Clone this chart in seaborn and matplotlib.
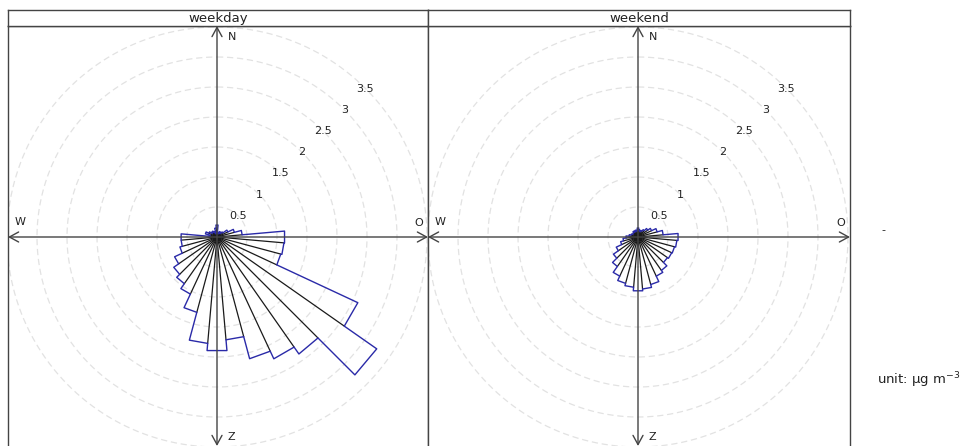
import numpy as np
import pandas as pd
import matplotlib
matplotlib.use("Agg")
import matplotlib.pyplot as plt
import seaborn as sns

# ---------------- data ----------------
directions = list(range(10, 361, 10))  # wind direction bins (degrees)
weekday = [0.08, 0.06, 0.10, 0.08, 0.12, 0.20, 0.30, 0.42, 1.13, 1.12,
           1.10, 2.59, 3.25, 2.38, 2.24, 2.10, 1.72, 1.90, 1.78, 1.30,
           1.05, 0.95, 0.88, 0.78, 0.64, 0.60, 0.60, 0.12, 0.20, 0.15,
           0.10, 0.12, 0.10, 0.06, 0.15, 0.20]
weekend = [0.12, 0.10, 0.12, 0.15, 0.20, 0.25, 0.33, 0.42, 0.67, 0.65,
           0.63, 0.62, 0.60, 0.68, 0.72, 0.82, 0.87, 0.90, 0.84, 0.80,
           0.72, 0.60, 0.50, 0.40, 0.30, 0.25, 0.20, 0.15, 0.12, 0.10,
           0.10, 0.12, 0.10, 0.12, 0.10, 0.15]
panel_names = ["weekday", "weekend"]
grid_levels = [0.5, 1, 1.5, 2, 2.5, 3, 3.5]
grid_labels = ["0.5", "1", "1.5", "2", "2.5", "3", "3.5"]
unit_label = "unit: µg m$^{-3}$"
key_label = "-"

# ---------------- style ----------------
sns.set_theme(style="white")
plt.rcParams["font.family"] = ["DejaVu Sans"]

W, H = 966, 446
fig = plt.figure(figsize=(W / 100, H / 100), dpi=100)
fig.patch.set_facecolor("white")
PX = 60.0  # pixels per data unit
FRAME = "#444444"
BLUE = "#2a2aa8"
TXT = "#222222"


def px_axes(left, top, width, height):
    return fig.add_axes([left / W, 1 - (top + height) / H, width / W, height / H])


panel_geom = [(8, 420, 217), (428, 422, 638)]  # left, width, centre x
p_top, p_bot, cy = 26, 449, 237

for name, vals, (left, width, cx) in zip(panel_names, [weekday, weekend], panel_geom):
    ax = px_axes(left, p_top, width, p_bot - p_top)
    xlim = ((left - cx) / PX, (left + width - cx) / PX)
    ylim = ((cy - p_bot) / PX, (cy - p_top) / PX)
    ax.set_xlim(*xlim)
    ax.set_ylim(*ylim)
    ax.set_xticks([])
    ax.set_yticks([])
    for s in ax.spines.values():
        s.set_color(FRAME)
        s.set_linewidth(1.0)

    # grid circles
    th = np.linspace(0, 2 * np.pi, 400)
    for lev, lab in zip(grid_levels, grid_labels):
        ax.plot(lev * np.sin(th), lev * np.cos(th), color="#e2e2e2",
                lw=0.9, ls=(0, (5, 3)), zorder=1)
        a = np.deg2rad(45)
        ax.text(lev * np.sin(a), lev * np.cos(a), lab, fontsize=8,
                color=TXT, ha="center", va="center", zorder=5)

    # radial black edges between wedges
    n = len(directions)
    for i in range(n):
        j = (i + 1) % n
        rmin = min(vals[i], vals[j])
        ang = np.deg2rad(directions[i] + 5)
        ax.plot([0, rmin * np.sin(ang)], [0, rmin * np.cos(ang)],
                color="#1a1a1a", lw=0.9, zorder=3)

    # blue outer outline of the rose (straight outer edges)
    xs, ys = [], []
    for b, r in zip(directions, vals):
        t = np.deg2rad(np.array([b - 5, b + 5]))
        xs += list(r * np.sin(t))
        ys += list(r * np.cos(t))
    xs.append(xs[0])
    ys.append(ys[0])
    df = pd.DataFrame({"x": xs, "y": ys})
    sns.lineplot(data=df, x="x", y="y", sort=False, estimator=None,
                 color=BLUE, lw=1.0, ax=ax, zorder=4)
    ax.set_xlabel("")
    ax.set_ylabel("")

    # compass axes with arrows
    arrow = dict(arrowstyle="<->,head_length=0.55,head_width=0.3",
                 color=FRAME, lw=1.0, shrinkA=0, shrinkB=0)
    ax.annotate("", xy=(xlim[1], 0), xytext=(xlim[0], 0), arrowprops=arrow,
                zorder=6, annotation_clip=False)
    ax.annotate("", xy=(0, ylim[1]), xytext=(0, ylim[0] + 3 / PX), arrowprops=arrow,
                zorder=6, annotation_clip=False)

    ax.text(14.7 / PX, 200 / PX, "N", fontsize=8, color=TXT,
            ha="center", va="center", zorder=7)
    ax.text(14.7 / PX, -200 / PX, "Z", fontsize=8, color=TXT,
            ha="center", va="center", zorder=7)
    ax.text((left + 12 - cx) / PX, 15 / PX, "W", fontsize=8, color=TXT,
            ha="center", va="center", zorder=7)
    ax.text((left + width - 9 - cx) / PX, 14 / PX, "O", fontsize=8, color=TXT,
            ha="center", va="center", zorder=7)

    # strip
    sax = px_axes(left, 10, width, 16)
    sax.set_xticks([])
    sax.set_yticks([])
    sax.set_facecolor("white")
    for s in sax.spines.values():
        s.set_color(FRAME)
        s.set_linewidth(1.0)
    sax.text(0.5, 0.45, name, fontsize=9.5, color=TXT,
             ha="center", va="center", transform=sax.transAxes)

fig.text(883 / W, 1 - 230 / H, key_label, fontsize=8, color=TXT,
         ha="center", va="center")
fig.text(877 / W, 1 - 380 / H, unit_label, fontsize=9.5, color=TXT,
         ha="left", va="center")

fig.savefig("out.png", dpi=100, facecolor="white")
